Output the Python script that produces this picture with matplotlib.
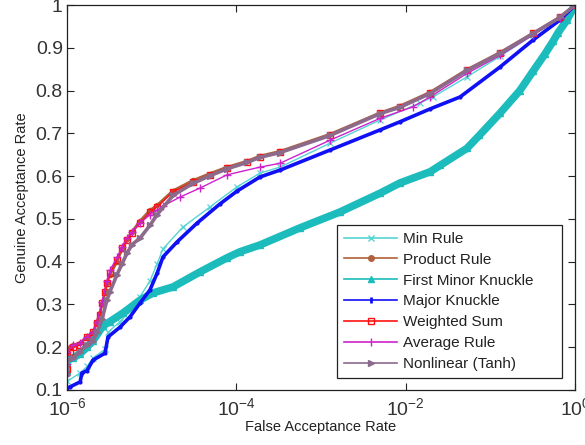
import matplotlib
matplotlib.use("Agg")
import matplotlib.pyplot as plt
from matplotlib.lines import Line2D

plt.rcParams['font.family'] = ['Liberation Sans', 'DejaVu Sans']
plt.rcParams['mathtext.default'] = 'regular'

# ---------------- data ----------------
series_names = ["Min Rule", "Product Rule", "First Minor Knuckle", "Major Knuckle",
                "Weighted Sum", "Average Rule", "Nonlinear (Tanh)"]

min_far = [1.0e-6, 1.43e-6, 1.72e-6, 2.03e-6, 2.81e-6, 3.05e-6, 4.23e-6, 5.55e-6, 7.28e-6,
           9.55e-6, 1.16e-5, 1.36e-5, 2.34e-5, 4.89e-5, 1.02e-4, 1.90e-4, 3.28e-4, 1.28e-3,
           4.98e-3, 1.48e-2, 2.10e-2, 5.30e-2, 0.130, 0.319, 0.665, 1.0]
min_gar = [0.12, 0.14, 0.155, 0.175, 0.195, 0.235, 0.26, 0.285, 0.318,
           0.355, 0.395, 0.43, 0.481, 0.528, 0.575, 0.607, 0.621, 0.677,
           0.731, 0.771, 0.785, 0.832, 0.88, 0.93, 0.97, 1.0]

product_far = [1.0e-6, 1.0e-6, 1.08e-6, 1.18e-6, 1.43e-6, 1.72e-6, 2.03e-6, 2.26e-6, 2.45e-6,
               2.59e-6, 2.81e-6, 2.96e-6, 3.22e-6, 3.90e-6, 4.47e-6, 5.12e-6, 5.86e-6, 7.28e-6,
               9.55e-6, 1.16e-5, 1.79e-5, 3.08e-5, 4.89e-5, 7.76e-5, 1.34e-4, 1.90e-4, 3.28e-4,
               1.28e-3, 4.98e-3, 8.57e-3, 1.94e-2, 5.30e-2, 0.130, 0.319, 0.665, 1.0]
product_gar = [0.15, 0.19, 0.20, 0.205, 0.21, 0.225, 0.235, 0.26, 0.28,
               0.30, 0.33, 0.35, 0.37, 0.40, 0.43, 0.452, 0.47, 0.495,
               0.52, 0.532, 0.566, 0.59, 0.606, 0.621, 0.635, 0.647, 0.658,
               0.698, 0.748, 0.764, 0.796, 0.849, 0.889, 0.934, 0.972, 1.0]

fmk_far = [1.0e-6, 1.0e-6, 1.18e-6, 1.43e-6, 1.72e-6, 2.03e-6, 2.66e-6, 3.22e-6, 4.58e-6,
           7.28e-6, 1.04e-5, 1.79e-5, 3.72e-5, 7.76e-5, 1.10e-4, 1.90e-4, 5.65e-4, 1.67e-3,
           4.98e-3, 8.57e-3, 1.94e-2, 2.55e-2, 5.30e-2, 7.40e-2, 0.130, 0.223, 0.319,
           0.440, 0.550, 0.630, 0.805, 1.0]
fmk_gar = [0.145, 0.17, 0.175, 0.185, 0.20, 0.215, 0.25, 0.26, 0.28,
           0.31, 0.327, 0.341, 0.376, 0.409, 0.423, 0.439, 0.479, 0.516,
           0.56, 0.584, 0.61, 0.625, 0.665, 0.695, 0.747, 0.80, 0.845,
           0.885, 0.915, 0.935, 0.965, 1.0]

major_far = [1.0e-6, 1.08e-6, 1.43e-6, 1.50e-6, 1.72e-6, 2.03e-6, 2.81e-6, 3.05e-6, 4.23e-6,
             5.55e-6, 7.28e-6, 9.55e-6, 1.16e-5, 1.36e-5, 1.99e-5, 3.43e-5, 6.41e-5, 1.02e-4,
             1.90e-4, 3.28e-4, 1.28e-3, 4.98e-3, 8.57e-3, 1.94e-2, 4.39e-2, 0.130, 0.319,
             0.665, 1.0]
major_gar = [0.105, 0.107, 0.119, 0.14, 0.145, 0.17, 0.186, 0.224, 0.247,
             0.271, 0.303, 0.334, 0.373, 0.411, 0.446, 0.49, 0.535, 0.565,
             0.598, 0.614, 0.661, 0.708, 0.727, 0.757, 0.785, 0.855, 0.918,
             0.965, 1.0]

weighted_far = [1.0e-6, 1.0e-6, 1.08e-6, 1.18e-6, 1.43e-6, 1.72e-6, 2.03e-6, 2.26e-6, 2.45e-6,
                2.59e-6, 2.81e-6, 2.96e-6, 3.22e-6, 3.90e-6, 4.47e-6, 5.12e-6, 5.86e-6, 7.28e-6,
                9.55e-6, 1.16e-5, 1.79e-5, 3.08e-5, 4.89e-5, 7.76e-5, 1.34e-4, 1.90e-4, 3.28e-4,
                1.28e-3, 4.98e-3, 8.57e-3, 1.94e-2, 5.30e-2, 0.130, 0.319, 0.665, 1.0]
weighted_gar = [0.15, 0.18, 0.19, 0.20, 0.205, 0.224, 0.235, 0.257, 0.275,
                0.303, 0.33, 0.35, 0.373, 0.404, 0.432, 0.451, 0.467, 0.49,
                0.515, 0.528, 0.563, 0.586, 0.603, 0.619, 0.633, 0.645, 0.656,
                0.696, 0.747, 0.762, 0.794, 0.848, 0.888, 0.934, 0.972, 1.0]

average_far = [1.0e-6, 1.0e-6, 1.18e-6, 1.43e-6, 1.72e-6, 2.03e-6, 2.26e-6, 2.59e-6, 2.96e-6,
               3.22e-6, 3.90e-6, 4.47e-6, 5.12e-6, 5.86e-6, 7.28e-6, 9.55e-6, 1.16e-5, 1.36e-5,
               2.16e-5, 3.72e-5, 7.76e-5, 1.90e-4, 3.28e-4, 1.28e-3, 4.98e-3, 1.22e-2, 1.94e-2,
               5.30e-2, 0.130, 0.319, 0.665, 1.0]
average_gar = [0.16, 0.19, 0.205, 0.21, 0.225, 0.235, 0.26, 0.305, 0.355,
               0.38, 0.41, 0.435, 0.455, 0.47, 0.49, 0.51, 0.52, 0.53,
               0.551, 0.572, 0.603, 0.621, 0.63, 0.684, 0.735, 0.762, 0.785,
               0.84, 0.882, 0.93, 0.97, 1.0]

nonlin_far = [1.0e-6, 1.0e-6, 1.18e-6, 1.43e-6, 1.72e-6, 2.03e-6, 2.26e-6, 2.59e-6, 2.96e-6,
              3.22e-6, 3.90e-6, 4.47e-6, 5.12e-6, 5.86e-6, 7.28e-6, 9.55e-6, 1.16e-5, 1.79e-5,
              3.08e-5, 4.89e-5, 7.76e-5, 1.34e-4, 1.90e-4, 3.28e-4, 1.28e-3, 4.98e-3, 8.57e-3,
              1.94e-2, 5.30e-2, 0.130, 0.319, 0.665, 1.0]
nonlin_gar = [0.135, 0.17, 0.175, 0.19, 0.205, 0.215, 0.235, 0.265, 0.31,
              0.33, 0.37, 0.395, 0.42, 0.44, 0.455, 0.485, 0.51, 0.555,
              0.583, 0.601, 0.617, 0.632, 0.644, 0.655, 0.695, 0.746, 0.761,
              0.793, 0.847, 0.887, 0.933, 0.971, 1.0]

x_ticks = [1e-6, 1e-4, 1e-2, 1e0]
x_tick_labels = ["$10^{-6}$", "$10^{-4}$", "$10^{-2}$", "$10^{0}$"]
y_ticks = [0.1, 0.2, 0.3, 0.4, 0.5, 0.6, 0.7, 0.8, 0.9, 1.0]
y_tick_labels = ["0.1", "0.2", "0.3", "0.4", "0.5", "0.6", "0.7", "0.8", "0.9", "1"]

# ---------------- styles ----------------
c_min = '#55d4d4'
c_prod = '#b0603a'
c_fmk = '#1cbcbc'
c_major = '#1010f5'
c_ws = '#ff1010'
c_avg = '#cc22cc'
c_nl = '#8c6a8c'

fig = plt.figure(figsize=(5.85, 4.45), dpi=100)
ax = fig.add_axes([67/585, 55/445, 508/585, 385/445])

ax.plot(min_far, min_gar, color=c_min, lw=1.0, marker='x', ms=4, mew=0.9)
ax.plot(product_far, product_gar, color=c_prod, lw=2.0, marker='o', ms=3)
ax.plot(fmk_far, fmk_gar, color=c_fmk, lw=5.5, marker='^', ms=4, solid_joinstyle='round')
ax.plot(major_far, major_gar, color=c_major, lw=2.6, marker='.', ms=4)
ax.plot(weighted_far, weighted_gar, color=c_ws, lw=1.0, marker='s', ms=5, mfc='none', mew=1.0)
ax.plot(average_far, average_gar, color=c_avg, lw=1.0, marker='+', ms=6, mew=1.0)
ax.plot(nonlin_far, nonlin_gar, color=c_nl, lw=2.6, marker='>', ms=4)

ax.set_xscale('log')
ax.set_xlim(1e-6, 1.0)
ax.set_ylim(0.1, 1.0)
ax.set_xticks(x_ticks)
ax.set_xticklabels(x_tick_labels)
ax.xaxis.set_minor_locator(matplotlib.ticker.NullLocator())
ax.set_yticks(y_ticks)
ax.set_yticklabels(y_tick_labels)
ax.tick_params(axis='both', which='major', direction='in', length=5, width=0.8,
               top=True, right=True, labelsize=14, pad=3, colors='#222222',
               labelcolor='#333333')
ax.tick_params(axis='x', pad=5)
for s in ax.spines.values():
    s.set_linewidth(0.9)
    s.set_color('#222222')

ax.set_xlabel("False Acceptance Rate", fontsize=10.5, color='#222222', labelpad=1)
ax.set_ylabel("Genuine Acceptance Rate", fontsize=10.5, color='#222222', labelpad=5)

handles = [
    Line2D([], [], color=c_min, lw=1.2, marker='x', ms=5),
    Line2D([], [], color=c_prod, lw=1.2, marker='o', ms=4),
    Line2D([], [], color=c_fmk, lw=1.2, marker='^', ms=5),
    Line2D([], [], color=c_major, lw=1.2, marker='|', ms=4, mew=2),
    Line2D([], [], color=c_ws, lw=1.2, marker='s', ms=5, mfc='none'),
    Line2D([], [], color=c_avg, lw=1.2, marker='|', ms=6),
    Line2D([], [], color=c_nl, lw=1.2, marker='>', ms=4),
]
leg = ax.legend(handles, series_names, loc='lower left',
                bbox_to_anchor=(270/508, 12/385, 225/508, 178/385), mode='expand',
                borderaxespad=0, fontsize=11, handlelength=3.5, handletextpad=0.35,
                labelspacing=0.45, borderpad=0.45, fancybox=False, framealpha=1,
                edgecolor='#222222')
leg.get_frame().set_linewidth(0.9)
for t in leg.get_texts():
    t.set_color('#222222')

fig.savefig("out.png", dpi=100)
